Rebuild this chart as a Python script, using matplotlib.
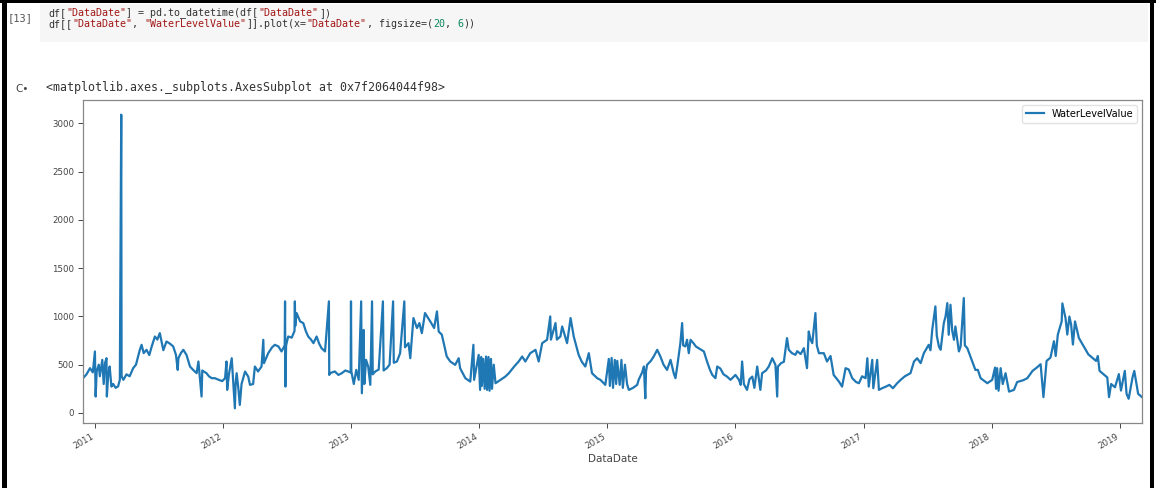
import pandas as pd
import matplotlib.pyplot as plt
import matplotlib.dates as mdates
from matplotlib.patches import Rectangle

# Water level readings (one list pair per year)
d11 = ["2010-11-28", "2010-12-08", "2010-12-18", "2010-12-26", "2011-01-01", "2011-01-03", "2011-01-06", "2011-01-12",
       "2011-01-15", "2011-01-22", "2011-01-26", "2011-01-30", "2011-02-03", "2011-02-04", "2011-02-08", "2011-02-12",
       "2011-02-17", "2011-02-22", "2011-03-01", "2011-03-08", "2011-03-13", "2011-03-17", "2011-03-18", "2011-03-23",
       "2011-04-01", "2011-04-10", "2011-04-20", "2011-04-28", "2011-05-09", "2011-05-14", "2011-05-20", "2011-05-28",
       "2011-06-05", "2011-06-12", "2011-06-21", "2011-06-28", "2011-07-05", "2011-07-15", "2011-07-24", "2011-08-02",
       "2011-08-12", "2011-08-20", "2011-08-25", "2011-08-27", "2011-09-03", "2011-09-10", "2011-09-19", "2011-09-29",
       "2011-10-08", "2011-10-18", "2011-10-23", "2011-11-01", "2011-11-03", "2011-11-15", "2011-11-22", "2011-11-30",
       "2011-12-09", "2011-12-20", "2011-12-30"]
v11 = [360, 400, 464, 420, 637, 170, 430, 500, 380, 550, 300, 520, 567, 170, 400, 481, 273, 300, 260, 275, 343, 3090,
       380, 343, 400, 380, 464, 500, 654, 706, 620, 654, 600, 690, 792, 760, 827, 650, 740, 720, 690, 602, 446, 567,
       620, 654, 602, 481, 446, 412, 533, 170, 440, 412, 380, 360, 360, 343, 330]

d12 = ["2012-01-07", "2012-01-11", "2012-01-13", "2012-01-18", "2012-01-26", "2012-01-30", "2012-02-04", "2012-02-06",
       "2012-02-09", "2012-02-14", "2012-02-18", "2012-02-23", "2012-03-04", "2012-03-13", "2012-03-18", "2012-03-27",
       "2012-04-01", "2012-04-10", "2012-04-20", "2012-04-25", "2012-04-27", "2012-05-09", "2012-05-20", "2012-05-28",
       "2012-06-07", "2012-06-16", "2012-06-25", "2012-06-26", "2012-06-27", "2012-06-29", "2012-07-05", "2012-07-15",
       "2012-07-23", "2012-07-24", "2012-07-25", "2012-07-29", "2012-08-08", "2012-08-17", "2012-08-24", "2012-08-31",
       "2012-09-08", "2012-09-15", "2012-09-24", "2012-10-01", "2012-10-08", "2012-10-18", "2012-10-29", "2012-10-30",
       "2012-11-01", "2012-11-15", "2012-11-25", "2012-12-04", "2012-12-15", "2012-12-30", "2012-12-31"]
v12 = [360, 533, 239, 400, 567, 343, 48, 300, 412, 250, 83, 300, 429, 377, 291, 300, 481, 430, 481, 758, 516, 619,
       680, 706, 689, 637, 700, 1156, 273, 700, 792, 780, 850, 1156, 900, 1035, 948, 931, 850, 792, 760, 723, 792,
       720, 671, 637, 1156, 394, 412, 430, 394, 410, 440, 420, 1156]

d13 = ["2013-01-01", "2013-01-08", "2013-01-15", "2013-01-22", "2013-01-29", "2013-01-31", "2013-02-05", "2013-02-07",
       "2013-02-12", "2013-02-18", "2013-02-24", "2013-03-01", "2013-03-03", "2013-03-10", "2013-03-20", "2013-04-01",
       "2013-04-03", "2013-04-12", "2013-04-20", "2013-04-30", "2013-05-02", "2013-05-11", "2013-05-20", "2013-06-01",
       "2013-06-03", "2013-06-13", "2013-06-18", "2013-06-27", "2013-07-07", "2013-07-14", "2013-07-21", "2013-07-30",
       "2013-08-14", "2013-08-25", "2013-09-02", "2013-09-07", "2013-09-16", "2013-09-30", "2013-10-10", "2013-10-24",
       "2013-11-03", "2013-11-07", "2013-11-22", "2013-12-06", "2013-12-15", "2013-12-17", "2013-12-30"]
v13 = [430, 300, 446, 343, 1156, 204, 860, 300, 550, 481, 291, 1156, 400, 429, 450, 1156, 440, 464, 500, 1156, 520,
       533, 619, 1156, 680, 723, 567, 983, 880, 931, 827, 1035, 948, 880, 1052, 844, 810, 585, 533, 498, 567, 464,
       360, 325, 706, 343, 602]

d14 = ["2014-01-03", "2014-01-06", "2014-01-08", "2014-01-12", "2014-01-16", "2014-01-20", "2014-01-23", "2014-01-27",
       "2014-01-30", "2014-02-03", "2014-02-06", "2014-02-11", "2014-02-16", "2014-03-01", "2014-03-16", "2014-03-26",
       "2014-04-10", "2014-04-23", "2014-05-03", "2014-05-12", "2014-05-26", "2014-06-10", "2014-06-19", "2014-06-29",
       "2014-07-13", "2014-07-22", "2014-07-24", "2014-08-06", "2014-08-10", "2014-08-20", "2014-08-25", "2014-09-08",
       "2014-09-18", "2014-09-27", "2014-10-11", "2014-10-20", "2014-10-30", "2014-11-09", "2014-11-18", "2014-12-03",
       "2014-12-12", "2014-12-26"]
v14 = [239, 580, 280, 560, 250, 585, 239, 580, 230, 560, 250, 500, 308, 340, 377, 412, 480, 533, 585, 533, 619, 654,
       533, 723, 758, 1000, 760, 931, 760, 792, 896, 723, 983, 792, 602, 530, 481, 619, 412, 360, 343, 291]

d15 = ["2015-01-05", "2015-01-08", "2015-01-13", "2015-01-17", "2015-01-22", "2015-01-26", "2015-01-29", "2015-02-05",
       "2015-02-10", "2015-02-14", "2015-02-20", "2015-02-26", "2015-03-03", "2015-03-15", "2015-03-27", "2015-03-31",
       "2015-04-10", "2015-04-15", "2015-04-19", "2015-04-21", "2015-04-24", "2015-05-05", "2015-05-13", "2015-05-23",
       "2015-06-01", "2015-06-10", "2015-06-20", "2015-06-30", "2015-07-09", "2015-07-14", "2015-07-19", "2015-07-28",
       "2015-08-02", "2015-08-05", "2015-08-11", "2015-08-16", "2015-08-21", "2015-08-26", "2015-09-04", "2015-09-10",
       "2015-09-18", "2015-10-03", "2015-10-12", "2015-10-20", "2015-10-27", "2015-11-05", "2015-11-10", "2015-11-19",
       "2015-11-28", "2015-12-08", "2015-12-18"]
v15 = [560, 280, 570, 260, 550, 300, 540, 291, 550, 260, 500, 300, 239, 260, 291, 343, 420, 481, 152, 430, 498, 540,
       585, 654, 585, 500, 446, 550, 412, 360, 481, 723, 931, 700, 689, 758, 619, 758, 720, 689, 671, 637, 533, 450,
       394, 360, 481, 460, 400, 377, 343]

d16 = ["2016-01-01", "2016-01-11", "2016-01-16", "2016-01-20", "2016-01-25", "2016-02-03", "2016-02-10", "2016-02-18",
       "2016-02-24", "2016-03-03", "2016-03-12", "2016-03-17", "2016-03-28", "2016-04-05", "2016-04-15", "2016-04-24",
       "2016-04-29", "2016-05-01", "2016-05-10", "2016-05-18", "2016-05-27", "2016-06-01", "2016-06-10", "2016-06-20",
       "2016-06-25", "2016-07-05", "2016-07-14", "2016-07-23", "2016-07-28", "2016-08-02", "2016-08-07", "2016-08-16",
       "2016-08-20", "2016-08-26", "2016-09-09", "2016-09-18", "2016-09-28", "2016-10-07", "2016-10-22", "2016-10-31",
       "2016-11-10", "2016-11-19", "2016-11-29", "2016-12-10", "2016-12-18", "2016-12-27"]
v16 = [394, 343, 291, 533, 300, 239, 350, 377, 260, 481, 239, 412, 440, 481, 567, 498, 170, 480, 516, 530, 775, 654,
       620, 602, 640, 610, 671, 464, 844, 760, 723, 1035, 700, 619, 619, 533, 590, 394, 325, 273, 464, 450, 360, 320,
       308, 380]

d17 = ["2017-01-06", "2017-01-11", "2017-01-15", "2017-01-25", "2017-01-28", "2017-02-08", "2017-02-13", "2017-02-22",
       "2017-03-05", "2017-03-15", "2017-03-25", "2017-04-06", "2017-04-16", "2017-04-28", "2017-05-14", "2017-05-24",
       "2017-06-02", "2017-06-12", "2017-06-21", "2017-07-05", "2017-07-10", "2017-07-15", "2017-07-20", "2017-07-24",
       "2017-07-28", "2017-08-03", "2017-08-08", "2017-08-17", "2017-08-22", "2017-08-27", "2017-08-31", "2017-09-05",
       "2017-09-10", "2017-09-15", "2017-09-19", "2017-09-29", "2017-10-04", "2017-10-13", "2017-10-16", "2017-10-23",
       "2017-11-06", "2017-11-15", "2017-11-22", "2017-11-30", "2017-12-19"]
v17 = [360, 567, 273, 550, 256, 550, 239, 256, 273, 291, 256, 308, 343, 380, 412, 533, 567, 516, 619, 706, 650, 862,
       1000, 1104, 800, 689, 654, 931, 1000, 1138, 810, 1121, 850, 758, 896, 637, 689, 1190, 700, 671, 533, 446,
       446, 360, 308]

d18 = ["2018-01-02", "2018-01-10", "2018-01-13", "2018-01-16", "2018-01-20", "2018-01-26", "2018-02-01", "2018-02-09",
       "2018-02-19", "2018-03-05", "2018-03-14", "2018-04-01", "2018-04-12", "2018-04-27", "2018-05-09", "2018-05-20",
       "2018-05-28", "2018-06-06", "2018-06-17", "2018-06-27", "2018-07-02", "2018-07-08", "2018-07-19", "2018-07-21",
       "2018-07-30", "2018-08-04", "2018-08-10", "2018-08-15", "2018-08-20", "2018-08-26", "2018-09-06", "2018-09-22",
       "2018-10-03", "2018-10-25", "2018-10-30", "2018-11-04", "2018-11-26", "2018-12-01", "2018-12-07", "2018-12-18",
       "2018-12-29"]
v18 = [343, 470, 250, 464, 230, 464, 300, 412, 221, 239, 320, 340, 360, 436, 470, 505, 164, 539, 573, 743, 590, 812,
       948, 1135, 982, 812, 999, 914, 709, 948, 777, 675, 607, 539, 590, 436, 368, 164, 300, 266, 402]

d19 = ["2019-01-04", "2019-01-15", "2019-01-20", "2019-01-26", "2019-02-06", "2019-02-11", "2019-02-22", "2019-03-05"]
v19 = [232, 436, 198, 147, 368, 436, 198, 164]

df = pd.DataFrame({
    "DataDate": pd.to_datetime(d11 + d12 + d13 + d14 + d15 + d16 + d17 + d18 + d19),
    "WaterLevelValue": v11 + v12 + v13 + v14 + v15 + v16 + v17 + v18 + v19,
})

W, H = 1156, 488
fig = plt.figure(figsize=(W / 100, H / 100), dpi=100)
fig.patch.set_facecolor("white")

# notebook chrome: black frame, grey code cell
for x0, y0, w, h in [(0, 0, W, 3), (2, 0, 5, H), (1150, 0, 4, H)]:
    fig.patches.append(Rectangle((x0 / W, 1 - (y0 + h) / H), w / W, h / H, transform=fig.transFigure,
                                 facecolor="black", edgecolor="none"))
fig.patches.append(Rectangle((40 / W, 1 - 42 / H), 1108 / W, 38 / H, transform=fig.transFigure,
                             facecolor="#f6f6f6", edgecolor="none"))

mono = "DejaVu Sans Mono"
STR, NUM, TXT = "#a31515", "#098658", "#333333"


def code_line(x, y, parts, size):
    cw = 0.602 * size * 100 / 72
    for text, color in parts:
        fig.text(x / W, 1 - y / H, text, color=color, fontsize=size, family=mono, va="center")
        x += len(text) * cw


fig.text(8 / W, 1 - 18 / H, "[13]", fontsize=7.5, family=mono, color="#555555", va="center")
code_line(48, 13, [("df[", TXT), ('"DataDate"', STR), ("] = pd.to_datetime(df[", TXT),
                   ('"DataDate"', STR), ("])", TXT)], 7.2)
code_line(48, 24, [("df[[", TXT), ('"DataDate"', STR), (", ", TXT), ('"WaterLevelValue"', STR),
                   ("]].plot(x=", TXT), ('"DataDate"', STR), (", figsize=(", TXT), ("20", NUM),
                   (", ", TXT), ("6", NUM), ("))", TXT)], 7.2)
fig.text(15 / W, 1 - 89 / H, "C\u2022", fontsize=7.5, color="#444444", va="center")
code_line(46, 88, [("<matplotlib.axes._subplots.AxesSubplot at 0x7f2064044f98>", TXT)], 8.4)

# the chart itself
ax = fig.add_axes([83 / W, 1 - 423 / H, (1142 - 83) / W, (423 - 100) / H])
ax.plot(df["DataDate"], df["WaterLevelValue"], color="#1f77b4", lw=1.6, label="WaterLevelValue")
ax.set_xlim(df["DataDate"].iloc[0], df["DataDate"].iloc[-1])
ax.xaxis.set_major_locator(mdates.YearLocator())
ax.xaxis.set_major_formatter(mdates.DateFormatter("%Y"))
plt.setp(ax.get_xticklabels(), rotation=30, ha="right")
ax.tick_params(labelsize=6.2, colors="#444444", length=3.5, width=0.7, pad=3)
ax.set_xlabel("DataDate", fontsize=7.5, color="#444444", labelpad=2)
for s in ax.spines.values():
    s.set_color("#888888")
    s.set_linewidth(0.9)
leg = ax.legend(loc="upper right", fontsize=7, frameon=True, handlelength=1.8)
leg.get_frame().set_edgecolor("#dddddd")

fig.savefig("out.png", dpi=100)
